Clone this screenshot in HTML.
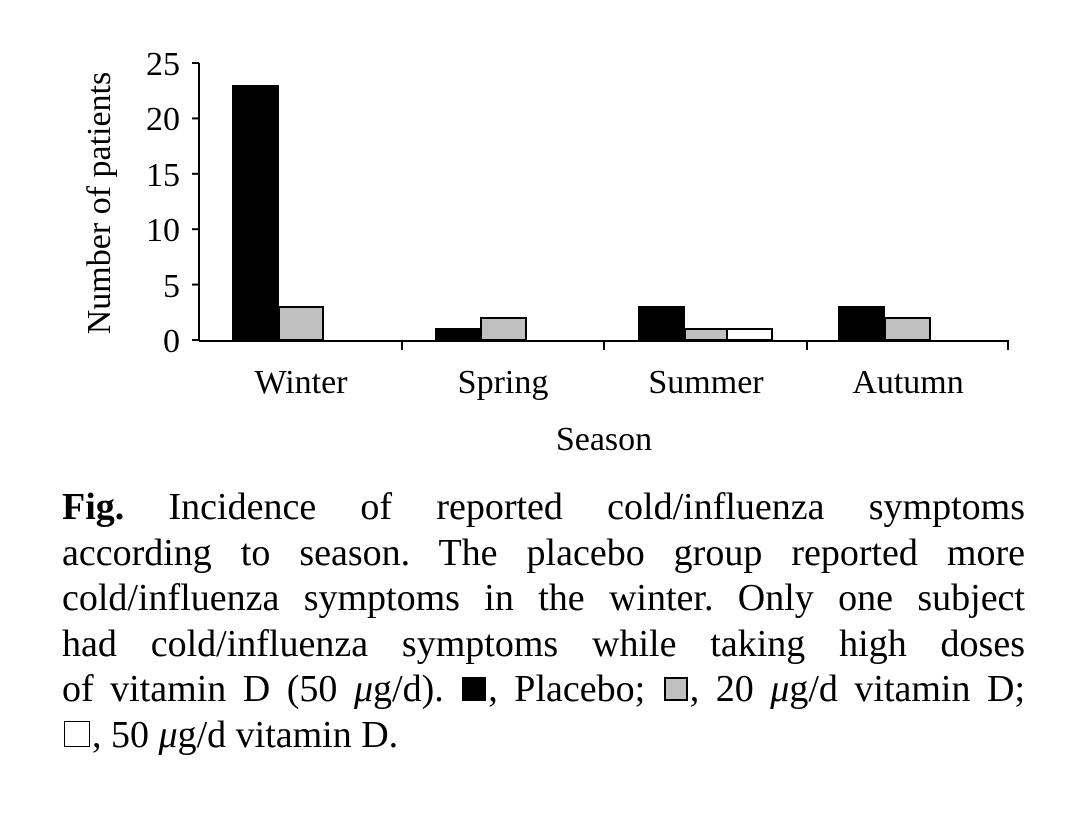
<!DOCTYPE html>
<html><head><meta charset="utf-8"><style>
body{margin:0;background:#fff;width:1068px;height:814px;position:relative;overflow:hidden;font-family:"Liberation Serif",serif;}
.cap{position:absolute;left:62px;width:963px;font-size:38px;line-height:45.5px;top:485px;color:#000;}
.cap div{text-align:justify;text-align-last:justify;white-space:nowrap;}
.cap div.last{text-align-last:left;}
.sq{display:inline-block;width:24px;height:24px;box-sizing:border-box;border:2px solid #000;vertical-align:0px;margin:0 2px;}
</style></head><body>
<svg width="1068" height="480" style="position:absolute;left:0;top:0" font-family="Liberation Serif, serif">
<g stroke="#000" stroke-width="2">
<line x1="199" y1="63" x2="199" y2="341"/>
<line x1="199" y1="341" x2="1009" y2="341"/>
<line x1="192" y1="63" x2="199" y2="63"/>
<line x1="192" y1="118.4" x2="199" y2="118.4"/>
<line x1="192" y1="173.8" x2="199" y2="173.8"/>
<line x1="192" y1="229.2" x2="199" y2="229.2"/>
<line x1="192" y1="284.6" x2="199" y2="284.6"/>
<line x1="192" y1="340" x2="199" y2="340"/>
<line x1="402" y1="341" x2="402" y2="350"/>
<line x1="604" y1="341" x2="604" y2="350"/>
<line x1="807" y1="341" x2="807" y2="350"/>
<line x1="1008" y1="341" x2="1008" y2="350"/>
</g>
<g stroke="#000" stroke-width="2">
<rect x="233" y="86" width="45" height="254" fill="#000"/>
<rect x="279" y="307" width="44" height="33" fill="#c0c0c0"/>
<rect x="436" y="329" width="45" height="11" fill="#000"/>
<rect x="481" y="318" width="45" height="22" fill="#c0c0c0"/>
<rect x="639" y="307" width="45" height="33" fill="#000"/>
<rect x="685" y="329" width="42" height="11" fill="#c0c0c0"/>
<rect x="727" y="329" width="45" height="11" fill="#fff"/>
<rect x="839" y="307" width="45" height="33" fill="#000"/>
<rect x="885" y="318" width="45" height="22" fill="#c0c0c0"/>
</g>
<g font-size="34" text-anchor="end">
<text x="180" y="75">25</text>
<text x="180" y="130">20</text>
<text x="180" y="186">15</text>
<text x="180" y="241">10</text>
<text x="180" y="297">5</text>
<text x="180" y="352">0</text>
</g>
<g font-size="34" text-anchor="middle">
<text x="301" y="393">Winter</text>
<text x="503" y="393">Spring</text>
<text x="706" y="393">Summer</text>
<text x="908" y="393">Autumn</text>
<text x="604" y="450">Season</text>
<text transform="translate(110,203) rotate(-90)">Number of patients</text>
</g>
</svg>
<div class="cap">
<div><b>Fig.</b> Incidence of reported cold/influenza symptoms</div>
<div>according to season. The placebo group reported more</div>
<div>cold/influenza symptoms in the winter. Only one subject</div>
<div>had cold/influenza symptoms while taking high doses</div>
<div>of vitamin D (50 <i>μ</i>g/d). <span class="sq" style="background:#000"></span>, Placebo; <span class="sq" style="background:#c0c0c0"></span>, 20 <i>μ</i>g/d vitamin D;</div>
<div class="last"><span class="sq" style="background:#fff;border-width:1.5px;width:26px;height:26px"></span>, 50 <i>μ</i>g/d vitamin D.</div>
</div>
</body></html>
